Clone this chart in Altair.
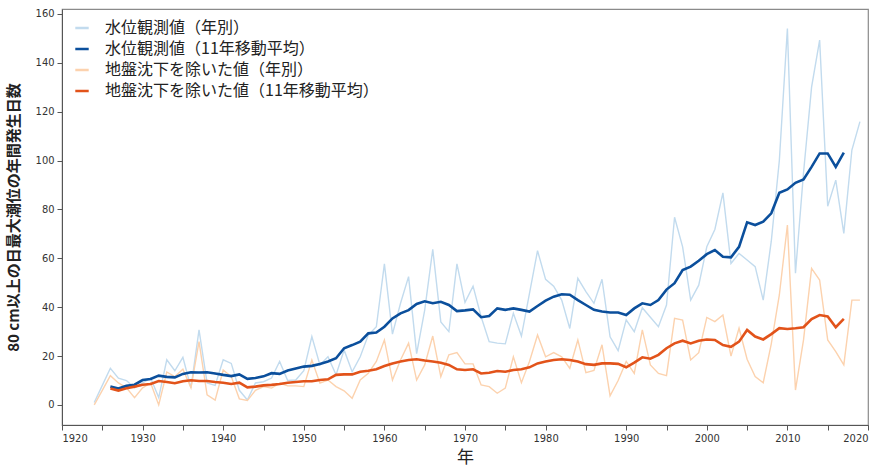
import altair as alt
import pandas as pd

# 年
years = list(range(1924, 2020))

# 水位観測値（年別）: 1924-2019
obs_annual = [
    1, 8, 15, 11, 10, 7, 9, 11, 3, 18.5, 14, 19.5, 7, 30.7, 9, 8, 18.5, 17, 6, 2,
    9, 9.5, 11, 17.8, 10, 10.2, 14, 28, 16.4, 19.7, 12.3, 22.5, 13.6, 19.7, 28.6, 32,
    57.7, 29, 41.6, 52.5, 21, 38.8, 63.7, 34, 30, 57.7, 42, 48.6, 36.1, 25.9, 25.3, 25,
    37.5, 28.2, 45.7, 63.1, 51.4, 48.6, 42.9, 31.3, 51.8, 46.4, 41.6, 51.4, 27.9, 22.2,
    34.8, 30, 39.8, 35.9, 32, 40.9, 76.8, 64.7, 42.9, 49, 64.7, 71.8, 86.8, 57.9, 62,
    59.3, 56.6, 42.9, 67, 100, 154, 53.9, 95, 130, 149.3, 81.3, 92, 70.2, 104.3, 115.9,
]

# 地盤沈下を除いた値（年別）: 1924-2019
adj_annual = [
    0, 6, 12, 9, 7, 3, 7, 9, 0, 13.5, 11.6, 14.6, 7, 25.9, 4.1, 2, 14.3, 11.6, 2.5, 1.8,
    6, 7.5, 6.9, 8.9, 7.8, 7.8, 7.5, 18.4, 8.9, 10.2, 7.5, 5.8, 2.7, 10.2, 13, 17.8,
    26.6, 10.2, 18.4, 25.3, 10.2, 16.4, 28.2, 11.6, 20.5, 21.4, 16.8, 16.8, 8.2, 7.5,
    4.8, 6.9, 19.7, 9.1, 17.8, 28.6, 19.7, 21.4, 19.7, 15, 26.6, 13.2, 14.1, 24.6, 3.7,
    10, 17.8, 12.9, 30.7, 16.4, 12.9, 12, 35.4, 34.7, 18.4, 21.4, 35.8, 34.1, 36.8, 20,
    31.4, 18.7, 11.6, 9.1, 25, 45, 73.6, 6.1, 26.6, 55.9, 51.1, 26.6, 21.8, 16.4, 42.9,
    42.9,
]

# 11年移動平均: 1926-2017
ma_years = list(range(1926, 2018))

obs_ma = [
    7.5, 6.7, 7.8, 8.3, 10.2, 10.6, 12, 11.5, 11.3, 12.7, 13.4, 13.3, 13.4, 12.9, 12.3,
    11.8, 12.5, 10.7, 11, 11.7, 13, 12.7, 14.1, 14.9, 15.7, 16, 16.8, 17.8, 19.1, 23.2,
    24.5, 25.9, 29.3, 29.6, 32, 35.4, 37.5, 38.8, 41.3, 42.4, 41.6, 42.2, 40.9, 38.4,
    38.7, 39.1, 35.9, 36.4, 39.5, 38.9, 39.5, 38.9, 38.2, 40.5, 42.7, 44.3, 45.3, 45.1,
    42.9, 40.9, 38.9, 38.2, 37.8, 37.8, 36.8, 39.5, 41.6, 40.9, 42.9, 47.2, 49.8, 55.2,
    56.6, 59, 61.7, 63.4, 60.6, 60.4, 64.7, 74.7, 73.6, 75, 78.4, 86.8, 88.2, 90.9, 92.3,
    97.4, 102.9, 102.9, 97.4, 103.2,
]

adj_ma = [
    6.7, 5.9, 6.8, 7.5, 8.3, 8.6, 9.8, 9.4, 8.9, 9.7, 10.1, 9.8, 9.8, 9.4, 9.1, 8.6,
    9.1, 7.2, 7.5, 8, 8.2, 8.6, 9.1, 9.4, 9.7, 9.7, 10.2, 10.5, 12.3, 12.5, 12.5, 13.6,
    14, 14.6, 15.9, 17, 17.8, 18.4, 18.7, 18.2, 17.8, 17.3, 16.4, 14.6, 14.3, 14.6, 12.9,
    13.2, 13.9, 13.6, 14.3, 14.6, 15.4, 17, 17.8, 18.4, 18.7, 18.4, 17.8, 16.7, 16.4,
    17, 17, 16.8, 15.4, 17.3, 19.5, 18.9, 20.5, 23.2, 25.2, 26.3, 25.2, 26.3, 26.8,
    26.6, 24.5, 23.8, 25.9, 30.7, 28, 26.8, 29, 31.4, 31.1, 31.4, 31.8, 35.1, 36.8,
    36.2, 31.8, 35.2,
]

series_names = [
    "水位観測値（年別）",
    "水位観測値（11年移動平均）",
    "地盤沈下を除いた値（年別）",
    "地盤沈下を除いた値（11年移動平均）",
]
series_colors = ["#c2dbee", "#0b4f9c", "#fcd2ae", "#e2531a"]

annual = pd.concat([
    pd.DataFrame({"年": years, "日数": obs_annual, "系列": series_names[0]}),
    pd.DataFrame({"年": years, "日数": adj_annual, "系列": series_names[2]}),
])
moving = pd.concat([
    pd.DataFrame({"年": ma_years, "日数": obs_ma, "系列": series_names[1]}),
    pd.DataFrame({"年": ma_years, "日数": adj_ma, "系列": series_names[3]}),
])

jp_font = "Noto Sans CJK JP"
tick_font = "Liberation Sans Narrow, DejaVu Sans Condensed, Liberation Sans"

x_enc = alt.X(
    "年:Q",
    scale=alt.Scale(domain=[1920, 2020], nice=False, zero=False),
    axis=alt.Axis(
        title="年",
        values=list(range(1920, 2021, 5)),
        labelExpr="datum.value % 10 === 0 ? toString(datum.value) : ''",
        grid=False,
        tickSize=5,
        labelFontSize=11,
        labelFont=tick_font,
        labelColor="#333",
        titleFont=jp_font,
        titleFontSize=17,
        titleFontWeight="normal",
        titleColor="#222",
        titlePadding=6,
        domainColor="#555",
        tickColor="#555",
    ),
)
y_enc = alt.Y(
    "日数:Q",
    scale=alt.Scale(domain=[-8.2, 162], nice=False, zero=False),
    axis=alt.Axis(
        title="80 cm以上の日最大潮位の年間発生日数",
        values=list(range(0, 161, 20)),
        grid=False,
        tickSize=5,
        labelFontSize=11,
        labelFont=tick_font,
        labelColor="#333",
        labelPadding=3,
        titleFont=jp_font,
        titleFontSize=15,
        titleFontWeight="bold",
        titleColor="#222",
        titlePadding=14,
        domainColor="#555",
        tickColor="#555",
    ),
)
color_enc = alt.Color(
    "系列:N",
    scale=alt.Scale(domain=series_names, range=series_colors),
    legend=alt.Legend(
        title=None,
        orient="none",
        legendX=12,
        legendY=11,
        symbolType="stroke",
        symbolStrokeWidth=2.5,
        symbolSize=180,
        labelFont=jp_font,
        labelFontSize=16,
        labelColor="#222",
        labelLimit=400,
        rowPadding=5,
        labelOffset=15,
    ),
)

annual_lines = alt.Chart(annual).mark_line(strokeWidth=1.4).encode(
    x=x_enc, y=y_enc, color=color_enc, detail="系列:N"
)
moving_lines = alt.Chart(moving).mark_line(strokeWidth=2.6).encode(
    x=x_enc, y=y_enc, color=color_enc, detail="系列:N"
)

chart = (
    alt.layer(annual_lines, moving_lines)
    .properties(
        width=806,
        height=416,
        autosize=alt.AutoSizeParams(type="none"),
        padding={"left": 62, "top": 9, "right": 12, "bottom": 49},
        background="white",
    )
    .configure_view(stroke="#8a8a8a", strokeWidth=1.2)
)

chart.save("out.html", embed_options={"renderer": "svg", "actions": False})
